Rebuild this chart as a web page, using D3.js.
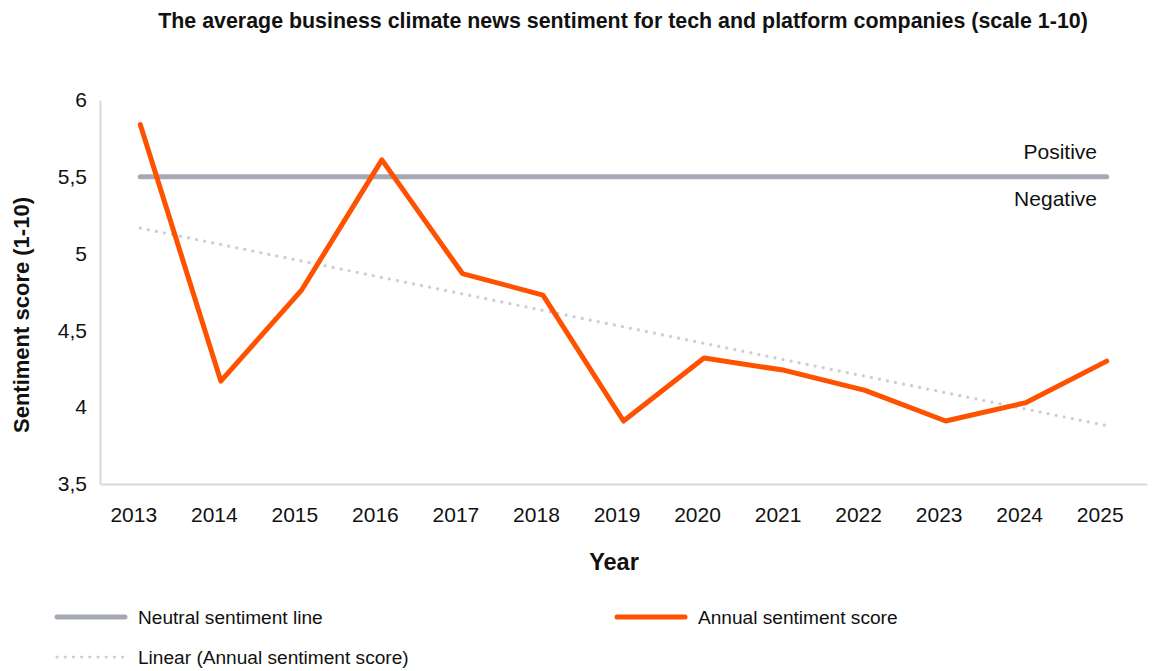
<!DOCTYPE html>
<html>
<head>
<meta charset="utf-8">
<script src="https://cdn.jsdelivr.net/npm/d3@7"></script>
<style>
  html, body { margin: 0; padding: 0; background: #fff; }
  svg { display: block; font-family: "Liberation Sans", Arial, sans-serif; }
</style>
</head>
<body>
<svg id="chart" width="1152" height="671"></svg>
<script>
// Annual sentiment data (scale 1-10)
const years = ["2013","2014","2015","2016","2017","2018","2019","2020","2021","2022","2023","2024","2025"];
const sentiment = [5.84, 4.17, 4.76, 5.61, 4.87, 4.73, 3.91, 4.32, 4.24, 4.11, 3.91, 4.03, 4.30];
const neutralValue = 5.5;
const yTicks = [3.5, 4, 4.5, 5, 5.5, 6];

const svg = d3.select("#chart");
const margin = { left: 100, right: 1147, top: 100, bottom: 484 };

const x = d3.scaleBand().domain(years).range([margin.left, margin.right]);
const xc = d => x(d) + x.bandwidth() / 2;
const y = d3.scaleLinear().domain([3.5, 6]).range([margin.bottom, margin.top]);

const fmt = v => String(v).replace(".", ",");

// Title
svg.append("text")
  .attr("x", 623).attr("y", 28)
  .attr("text-anchor", "middle")
  .attr("font-weight", "bold").attr("font-size", 21.4)
  .attr("fill", "#111")
  .text("The average business climate news sentiment for tech and platform companies (scale 1-10)");

// Axes
const xAxis = svg.append("g")
  .attr("transform", `translate(0,${margin.bottom})`)
  .call(d3.axisBottom(x).tickSize(0).tickPadding(23));
xAxis.select(".domain").attr("stroke", "#d9d9d9").attr("stroke-width", 2);
xAxis.selectAll("text").attr("font-size", 21).attr("fill", "#111").attr("dx", -6.5)
  .attr("font-family", "Liberation Sans, Arial, sans-serif");

const yAxis = svg.append("g")
  .attr("transform", `translate(${margin.left},0)`)
  .call(d3.axisLeft(y).tickValues(yTicks).tickFormat(fmt).tickSize(0).tickPadding(13));
yAxis.select(".domain").attr("stroke", "#d9d9d9").attr("stroke-width", 2);
yAxis.selectAll("text").attr("font-size", 21).attr("fill", "#111")
  .attr("font-family", "Liberation Sans, Arial, sans-serif");

// Axis titles
svg.append("text")
  .attr("transform", "translate(29,315) rotate(-90)")
  .attr("text-anchor", "middle")
  .attr("font-weight", "bold").attr("font-size", 22).attr("fill", "#111")
  .text("Sentiment score (1-10)");

svg.append("text")
  .attr("x", 614).attr("y", 570)
  .attr("text-anchor", "middle")
  .attr("font-weight", "bold").attr("font-size", 23.5).attr("fill", "#111")
  .text("Year");

// Linear trend of the annual score (least squares)
const idx = years.map((_, i) => i);
const mx = d3.mean(idx), my = d3.mean(sentiment);
const slope = d3.sum(idx, i => (i - mx) * (sentiment[i] - my)) / d3.sum(idx, i => (i - mx) ** 2);
const trend = idx.map(i => my + slope * (i - mx));

const line = d3.line().x((d, i) => xc(years[i])).y(d => y(d));

// Neutral line
svg.append("line")
  .attr("x1", xc(years[0])).attr("x2", xc(years[years.length - 1]))
  .attr("y1", y(neutralValue)).attr("y2", y(neutralValue))
  .attr("stroke", "#a5a9b4").attr("stroke-width", 5).attr("stroke-linecap", "round");

// Trend line
svg.append("path")
  .attr("d", line(trend))
  .attr("fill", "none").attr("stroke", "#ccd0d6").attr("stroke-width", 3.2)
  .attr("stroke-linecap", "round").attr("stroke-dasharray", "0.1 8.1");

// Annual sentiment line
svg.append("path")
  .attr("d", line(sentiment))
  .attr("fill", "none").attr("stroke", "#ff5200").attr("stroke-width", 5)
  .attr("stroke-linecap", "round").attr("stroke-linejoin", "round");

// Positive / Negative labels
svg.append("text").attr("x", 1097).attr("y", 159).attr("text-anchor", "end")
  .attr("font-size", 21).attr("fill", "#111").text("Positive");
svg.append("text").attr("x", 1097).attr("y", 206).attr("text-anchor", "end")
  .attr("font-size", 21).attr("fill", "#111").text("Negative");

// Legend
const legend = [
  { label: "Neutral sentiment line", x: 55, y: 617, color: "#a5a9b4", dash: null, w: 5 },
  { label: "Annual sentiment score", x: 615, y: 617, color: "#ff5200", dash: null, w: 5 },
  { label: "Linear (Annual sentiment score)", x: 55, y: 657, color: "#ccd0d6", dash: "0.1 8.1", w: 3.2 }
];
const lg = svg.append("g").selectAll("g").data(legend).join("g");
lg.append("line")
  .attr("x1", d => d.x + 2).attr("x2", d => d.x + 70)
  .attr("y1", d => d.y).attr("y2", d => d.y)
  .attr("stroke", d => d.color).attr("stroke-width", d => d.w)
  .attr("stroke-linecap", "round")
  .attr("stroke-dasharray", d => d.dash);
lg.append("text")
  .attr("x", d => d.x + 83).attr("y", d => d.y + 7)
  .attr("font-size", 19.1).attr("fill", "#111")
  .text(d => d.label);
</script>
</body>
</html>
